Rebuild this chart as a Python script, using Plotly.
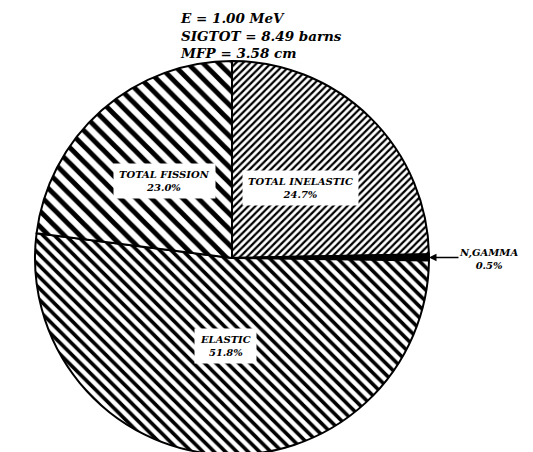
import numpy as np
import plotly.graph_objects as go

# reaction channels, clockwise from 12 o'clock
labels = ["TOTAL INELASTIC", "N,GAMMA", "ELASTIC", "TOTAL FISSION"]
percents = [24.7, 0.5, 51.8, 23.0]
header = ["E = 1.00 MeV", "SIGTOT = 8.49 barns", "MFP = 3.58 cm"]

# page body has an 8px margin, so work in figure pixels shifted by it
OFF = 8
W, H = 533, 460
cx_px, cy_px, r_px = 232 - OFF, 258 - OFF, 197

fig = go.Figure()
fig.add_trace(go.Pie(
    labels=labels, values=percents,
    sort=False, direction="clockwise", rotation=0,
    textinfo="none", hoverinfo="label+percent",
    marker=dict(
        colors=["white", "black", "white", "white"],
        line=dict(color="black", width=2),
        pattern=dict(shape=["/", "", "\\", "\\"],
                     size=[5, 6, 8, 11],
                     solidity=[0.45, 0.3, 0.45, 0.45],
                     fgcolor="black"),
    ),
    domain=dict(x=[(cx_px - r_px) / W, (cx_px + r_px) / W],
                y=[1 - (cy_px + r_px) / H, 1 - (cy_px - r_px) / H]),
    showlegend=False,
))

font = dict(family="DejaVu Serif", size=10, color="black")

# labels inside slices, placed along the slice mid-angle
frac = [0.5, None, 0.45, 0.52]
start = 90.0
for lab, p, f in zip(labels, percents, frac):
    sweep = p / 100 * 360
    mid = np.radians(start - sweep / 2)
    start -= sweep
    txt = f"<b><i>{lab}<br>{p:.1f}%</i></b>"
    if f is None:
        # small slice: label outside with an arrow
        ex = cx_px + r_px * np.cos(mid)
        ey = cy_px - r_px * np.sin(mid)
        fig.add_annotation(x=ex / W, y=1 - ey / H, xref="paper", yref="paper",
                           text="", showarrow=True, ax=31, ay=0,
                           arrowhead=2, arrowsize=1, arrowwidth=1.5,
                           arrowcolor="black")
        fig.add_annotation(x=(ex + 60) / W, y=1 - (ey + 2) / H,
                           xref="paper", yref="paper", text=txt,
                           xanchor="center", yanchor="middle",
                           showarrow=False, font=font)
        continue
    x = cx_px + f * r_px * np.cos(mid)
    y = cy_px - f * r_px * np.sin(mid)
    fig.add_annotation(x=x / W, y=1 - y / H, xref="paper", yref="paper",
                       xanchor="center", yanchor="middle",
                       text=txt, showarrow=False, font=font,
                       bgcolor="white", borderpad=5)

fig.add_annotation(x=(178 - OFF) / W, y=1, xref="paper", yref="paper",
                   xanchor="left", yanchor="top", align="left",
                   text="<br>".join(f"<b><i>{h}</i></b>" for h in header),
                   showarrow=False,
                   font=dict(family="DejaVu Serif", size=13.5, color="black"))

fig.update_layout(width=W, height=H, autosize=False,
                  margin=dict(l=0, r=0, t=0, b=0),
                  paper_bgcolor="white", plot_bgcolor="white")

fig.write_html("out.html")
